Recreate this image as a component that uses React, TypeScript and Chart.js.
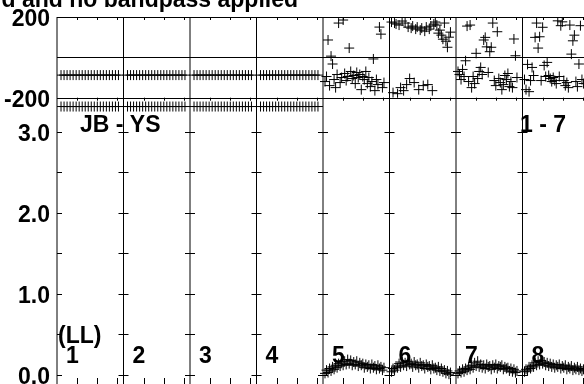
import React, { useEffect, useRef } from 'react';
import { Chart, registerables } from 'chart.js';

Chart.register(...registerables);

// ---------- texts ----------
const TITLE = 'd and no bandpass applied';
const BASELINE_LABEL = 'JB - YS';
const SOURCE_LABEL = '1 - 7';
const POL_LABEL = '(LL)';
const IF_NAMES = ['1', '2', '3', '4', '5', '6', '7', '8'];

// ---------- axes ----------
const IF_SPAN = 33; // channel span of one IF panel
const X_TICK_OFFSETS = [10, 20, 30];
const PHASE_LABEL_TICKS = [200, -200];
const PHASE_FRAME_LINES = [200, 0, -200];
const AMP_LABEL_TICKS = [0, 1, 2, 3];
const AMP_TICK_MARKS = [0, 0.5, 1, 1.5, 2, 2.5, 3];

// ---------- channels ----------
const CH_A = [2, 3.5, 5, 6.5, 8, 9.5, 11, 12.5, 14, 15.5, 17, 18.5, 20, 21.5, 23, 24.5, 26, 27.5, 29, 30.5];
const CH_B = [1, 1.75, 2.5, 3.25, 4, 4.75, 5.5, 6.25, 7, 7.75, 8.5, 9.25, 10, 10.75, 11.5, 12.25, 13, 13.75, 14.5, 15.25, 16, 16.75, 17.5, 18.25, 19, 19.75, 20.5, 21.25, 22, 22.75, 23.5, 24.25, 25, 25.75, 26.5, 27.25, 28, 28.75, 29.5, 30.25];

// ---------- phases (deg) ----------
const PH_IF1 = [-88, -88, -88, -88, -88, -88, -88, -88, -88, -88, -88, -88, -88, -88, -88, -88, -88, -88, -88, -88];
const PH_IF2 = [-88, -88, -88, -88, -88, -88, -88, -88, -88, -88, -88, -88, -88, -88, -88, -88, -88, -88, -88, -88];
const PH_IF3 = [-88, -88, -88, -88, -88, -88, -88, -88, -88, -88, -88, -88, -88, -88, -88, -88, -88, -88, -88, -88];
const PH_IF4 = [-88, -88, -88, -88, -88, -88, -88, -88, -88, -88, -88, -88, -88, -88, -88, -88, -88, -88, -88, -88];
const PH_IF5 = [-120, -95, 86, -140, 6, -33, -110, -150, -85, 170, -125, -100, 185, -80, -115, -95, 46, -70, -105, -90, -130, -75, -100, -85, -160, -95, -110, -70, -130, -100, -145, -120, -8, -165, -110, -135, 150, 115, -150, -125];
const PH_IF6 = [175, -175, 170, 165, -180, 160, -150, 180, -165, 170, -135, 150, -105, 145, 155, -125, 140, 150, -160, 135, 145, -140, 130, 150, -135, 140, 155, -165, 165, 175, 160, 120, 135, 110, 90, 170, 80, 50, 100, 125];
const PH_IF7 = [-70, -85, -110, -60, -95, -17, 155, -120, 160, -150, -95, -130, 20, -105, -70, -50, -85, 86, 99, 52, -75, 28, 50, 170, -115, -140, 127, -105, -125, -160, -135, -90, -110, -80, -145, -120, -150, 91, 8, -100];
const PH_IF8 = [-110, -160, -35, -170, -115, -50, -90, 99, 170, 46, 102, -115, 149, -40, -95, -25, -90, -105, -120, -100, -115, -130, 181, -95, 157, 176, -115, -140, -125, -150, 160, 16, 82, 110, -120, -145, -33, 157, -110, -130];

// ---------- amplitudes ----------
const AMP_IF1 = [3.31, 3.31, 3.31, 3.31, 3.31, 3.31, 3.31, 3.31, 3.31, 3.31, 3.31, 3.31, 3.31, 3.31, 3.31, 3.31, 3.31, 3.31, 3.31, 3.31];
const AMP_IF2 = [3.31, 3.31, 3.31, 3.31, 3.31, 3.31, 3.31, 3.31, 3.31, 3.31, 3.31, 3.31, 3.31, 3.31, 3.31, 3.31, 3.31, 3.31, 3.31, 3.31];
const AMP_IF3 = [3.31, 3.31, 3.31, 3.31, 3.31, 3.31, 3.31, 3.31, 3.31, 3.31, 3.31, 3.31, 3.31, 3.31, 3.31, 3.31, 3.31, 3.31, 3.31, 3.31];
const AMP_IF4 = [3.31, 3.31, 3.31, 3.31, 3.31, 3.31, 3.31, 3.31, 3.31, 3.31, 3.31, 3.31, 3.31, 3.31, 3.31, 3.31, 3.31, 3.31, 3.31, 3.31];
const AMP_IF5 = [0.02, 0.06, 0.03, 0.08, 0.05, 0.1, 0.07, 0.12, 0.09, 0.14, 0.11, 0.16, 0.12, 0.17, 0.13, 0.19, 0.14, 0.18, 0.12, 0.16, 0.13, 0.17, 0.11, 0.15, 0.12, 0.14, 0.09, 0.13, 0.1, 0.12, 0.08, 0.13, 0.09, 0.11, 0.07, 0.12, 0.08, 0.1, 0.06, 0.09];
const AMP_IF6 = [0.04, 0.08, 0.06, 0.11, 0.09, 0.14, 0.1, 0.16, 0.12, 0.15, 0.11, 0.17, 0.13, 0.14, 0.1, 0.16, 0.12, 0.13, 0.09, 0.15, 0.11, 0.12, 0.08, 0.13, 0.1, 0.11, 0.07, 0.12, 0.08, 0.09, 0.06, 0.1, 0.05, 0.08, 0.04, 0.06, 0.02, 0.05, 0.01, 0.03];
const AMP_IF7 = [0.02, 0.05, 0.03, 0.07, 0.04, 0.08, 0.06, 0.1, 0.07, 0.12, 0.09, 0.15, 0.11, 0.17, 0.1, 0.13, 0.09, 0.12, 0.08, 0.13, 0.1, 0.11, 0.07, 0.12, 0.09, 0.13, 0.08, 0.11, 0.1, 0.12, 0.07, 0.1, 0.08, 0.09, 0.05, 0.08, 0.04, 0.07, 0.03, 0.05];
const AMP_IF8 = [0.04, 0.07, 0.05, 0.1, 0.08, 0.12, 0.1, 0.15, 0.12, 0.17, 0.13, 0.18, 0.14, 0.16, 0.12, 0.15, 0.11, 0.14, 0.1, 0.13, 0.09, 0.12, 0.1, 0.13, 0.08, 0.11, 0.09, 0.12, 0.07, 0.1, 0.08, 0.11, 0.06, 0.09, 0.07, 0.1, 0.06, 0.08, 0.05, 0.07];

const CHANS = [CH_A, CH_A, CH_A, CH_A, CH_B, CH_B, CH_B, CH_B];
const PHASES = [PH_IF1, PH_IF2, PH_IF3, PH_IF4, PH_IF5, PH_IF6, PH_IF7, PH_IF8];
const AMPS = [AMP_IF1, AMP_IF2, AMP_IF3, AMP_IF4, AMP_IF5, AMP_IF6, AMP_IF7, AMP_IF8];

const FAMILY = '"Liberation Sans", Arial, Helvetica, sans-serif';
const FONT = `bold 23px ${FAMILY}`;

const fitAxis = (s: any) => {
  s.width = 57;
  s.paddingTop = 0;
  s.paddingBottom = 0;
  s.paddingLeft = 0;
  s.paddingRight = 0;
};

const framePlugin = {
  id: 'possmFrame',
  afterDatasetsDraw(chart: any) {
    const { ctx, chartArea: a } = chart;
    const xs = chart.scales.x;
    const yP = chart.scales.yP;
    const yA = chart.scales.yA;
    ctx.save();
    ctx.strokeStyle = '#000';
    ctx.lineWidth = 1;
    const line = (x1: number, y1: number, x2: number, y2: number) => {
      ctx.beginPath();
      ctx.moveTo(x1, y1);
      ctx.lineTo(x2, y2);
      ctx.stroke();
    };
    // horizontal frame lines of the phase panel
    for (const v of PHASE_FRAME_LINES) {
      const y = Math.round(yP.getPixelForValue(v)) + 0.5;
      line(a.left, y, a.right, y);
    }
    // vertical IF separators
    for (let i = 0; i <= IF_NAMES.length; i++) {
      const x = xs.getPixelForValue(i * IF_SPAN);
      line(x, a.top, x, a.bottom);
    }
    // x tick marks
    const yTop = yP.getPixelForValue(200);
    const yMid = yP.getPixelForValue(-200);
    for (let i = 0; i < IF_NAMES.length; i++) {
      for (const t of X_TICK_OFFSETS) {
        const x = Math.round(xs.getPixelForValue(i * IF_SPAN + t)) + 0.5;
        line(x, yTop, x, yTop + 3);
        line(x, yMid, x, yMid + 3);
        line(x, a.bottom, x, a.bottom - 12);
      }
    }
    // amplitude tick marks on every separator
    for (const v of AMP_TICK_MARKS) {
      const y = Math.round(yA.getPixelForValue(v)) + 0.5;
      for (let i = 0; i <= IF_NAMES.length; i++) {
        const x = xs.getPixelForValue(i * IF_SPAN);
        line(Math.max(a.left, x - 5), y, x + 5, y);
      }
    }
    // texts
    ctx.fillStyle = '#000';
    ctx.font = FONT;
    ctx.textBaseline = 'alphabetic';
    ctx.textAlign = 'right';
    ctx.fillText(TITLE, 298, 7);
    ctx.textAlign = 'left';
    ctx.fillText(BASELINE_LABEL, 80, 132);
    ctx.fillText(SOURCE_LABEL, 520, 132);
    ctx.fillText(POL_LABEL, 58, 343);
    for (let i = 0; i < IF_NAMES.length; i++) {
      const x = xs.getPixelForValue(i * IF_SPAN) + 9;
      ctx.fillText(IF_NAMES[i], x, 363);
    }
    ctx.restore();
  },
};

export default function App() {
  const ref = useRef<HTMLCanvasElement>(null);
  useEffect(() => {
    const canvas = ref.current;
    if (!canvas) return;
    const pt = {
      showLine: false,
      pointStyle: 'cross',
      pointRadius: 5,
      pointHoverRadius: 5,
      pointBorderWidth: 1,
      borderWidth: 1,
      borderColor: '#000',
      backgroundColor: '#000',
    };
    const datasets: any[] = [];
    for (let i = 0; i < IF_NAMES.length; i++) {
      datasets.push({
        label: `Phase IF ${IF_NAMES[i]}`,
        yAxisID: 'yP',
        data: CHANS[i].map((c, k) => ({ x: i * IF_SPAN + c, y: PHASES[i][k] })),
        ...pt,
      });
      datasets.push({
        label: `Amp IF ${IF_NAMES[i]}`,
        yAxisID: 'yA',
        data: CHANS[i].map((c, k) => ({ x: i * IF_SPAN + c, y: AMPS[i][k] })),
        ...pt,
      });
    }
    const tickFont = { family: FAMILY, size: 23, weight: 'bold' as const };
    const chart = new Chart(canvas, {
      type: 'scatter',
      data: { datasets },
      options: {
        responsive: false,
        animation: false,
        devicePixelRatio: 1,
        events: [],
        layout: { padding: { left: 0, top: 17, right: 11, bottom: 10 } },
        plugins: { legend: { display: false }, tooltip: { enabled: false }, title: { display: false } },
        scales: {
          x: { type: 'linear', min: 0, max: IF_SPAN * IF_NAMES.length, display: false },
          yP: {
            type: 'linear',
            position: 'left',
            stack: 'possm',
            stackWeight: 80.7,
            weight: 1,
            min: -200,
            max: 200,
            afterBuildTicks: (s: any) => { s.ticks = PHASE_LABEL_TICKS.map((v) => ({ value: v })); },
            afterFit: fitAxis,
            grid: { display: false, drawTicks: false },
            border: { display: false },
            ticks: { color: '#000', font: tickFont, padding: 7, labelOffset: 3, autoSkip: false, maxRotation: 0, callback: (v: any) => String(v) },
          },
          yA: {
            type: 'linear',
            position: 'left',
            stack: 'possm',
            stackWeight: 292.3,
            weight: 0,
            min: -0.185,
            max: 3.419,
            afterBuildTicks: (s: any) => { s.ticks = AMP_LABEL_TICKS.map((v) => ({ value: v })); },
            afterFit: fitAxis,
            grid: { display: false, drawTicks: false },
            border: { display: false },
            ticks: { color: '#000', font: tickFont, padding: 7, labelOffset: 3, autoSkip: false, maxRotation: 0, callback: (v: any) => Number(v).toFixed(1) },
          },
        },
      } as any,
      plugins: [framePlugin],
    });
    return () => chart.destroy();
  }, []);
  return (
    <div style={{ position: 'fixed', left: 0, top: 0, width: 584, height: 384, overflow: 'hidden', background: '#fff' }}>
      <canvas ref={ref} width={600} height={400} style={{ display: 'block', width: 600, height: 400 }} />
    </div>
  );
}
